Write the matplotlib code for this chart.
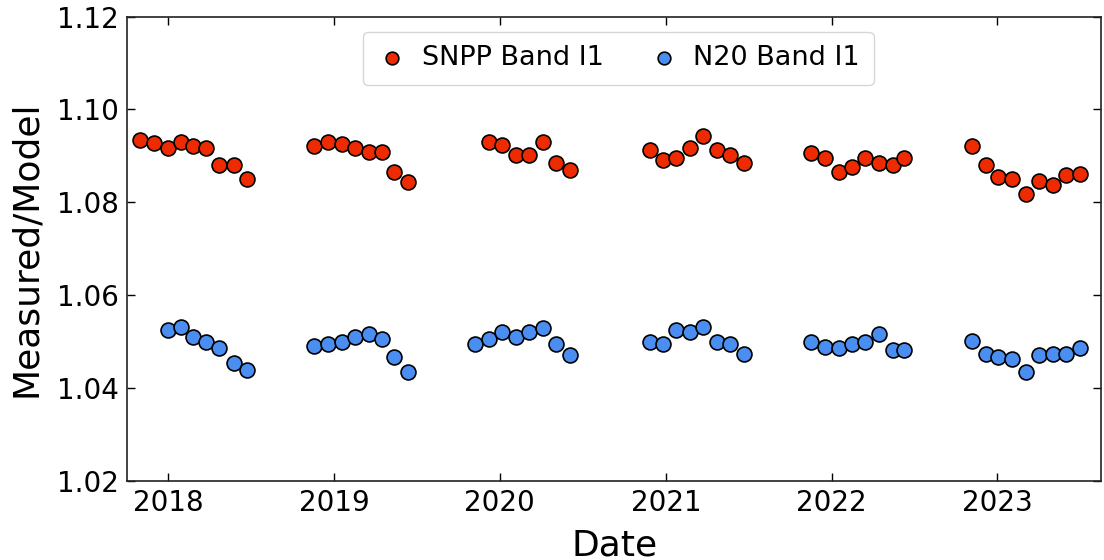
import numpy as np
import pandas as pd
import matplotlib
matplotlib.use('Agg')
import matplotlib.pyplot as plt
import matplotlib.dates as mdates

# Lunar-view dates (roughly one per month, Nov - Jul each season)
snpp_dates = [
    '2017-11-01', '2017-12-01', '2017-12-31', '2018-01-29', '2018-02-24', '2018-03-26', '2018-04-24', '2018-05-25', '2018-06-23',
    '2018-11-18', '2018-12-19', '2019-01-18', '2019-02-17', '2019-03-19', '2019-04-17', '2019-05-14', '2019-06-13',
    '2019-12-08', '2020-01-07', '2020-02-06', '2020-03-06', '2020-04-05', '2020-05-05', '2020-06-04',
    '2020-11-26', '2020-12-25', '2021-01-24', '2021-02-22', '2021-03-24', '2021-04-23', '2021-05-22', '2021-06-21',
    '2021-11-17', '2021-12-17', '2022-01-16', '2022-02-15', '2022-03-16', '2022-04-15', '2022-05-15', '2022-06-10',
    '2022-11-06', '2022-12-06', '2023-01-03', '2023-02-02', '2023-03-04', '2023-04-03', '2023-05-03', '2023-06-01', '2023-07-01',
]
snpp_ratio = [
    1.0934, 1.0927, 1.0916, 1.0930, 1.0920, 1.0916, 1.0880, 1.0880, 1.0850,
    1.0921, 1.0930, 1.0926, 1.0916, 1.0909, 1.0909, 1.0865, 1.0844,
    1.0930, 1.0923, 1.0902, 1.0902, 1.0930, 1.0884, 1.0869,
    1.0912, 1.0891, 1.0895, 1.0917, 1.0942, 1.0912, 1.0902, 1.0884,
    1.0906, 1.0895, 1.0865, 1.0876, 1.0895, 1.0884, 1.0880, 1.0895,
    1.0920, 1.0880, 1.0855, 1.0850, 1.0818, 1.0846, 1.0836, 1.0858, 1.0861,
]

n20_dates = [
    '2017-12-31', '2018-01-29', '2018-02-24', '2018-03-26', '2018-04-24', '2018-05-25', '2018-06-23',
    '2018-11-18', '2018-12-19', '2019-01-18', '2019-02-17', '2019-03-19', '2019-04-17', '2019-05-14', '2019-06-13',
    '2019-11-07', '2019-12-08', '2020-01-07', '2020-02-06', '2020-03-06', '2020-04-05', '2020-05-05', '2020-06-04',
    '2020-11-26', '2020-12-25', '2021-01-24', '2021-02-22', '2021-03-24', '2021-04-23', '2021-05-22', '2021-06-21',
    '2021-11-17', '2021-12-17', '2022-01-16', '2022-02-15', '2022-03-16', '2022-04-15', '2022-05-15', '2022-06-10',
    '2022-11-06', '2022-12-06', '2023-01-03', '2023-02-02', '2023-03-04', '2023-04-03', '2023-05-03', '2023-06-01', '2023-07-01',
]
n20_ratio = [
    1.0524, 1.0532, 1.0510, 1.0499, 1.0485, 1.0453, 1.0438,
    1.0491, 1.0495, 1.0499, 1.0510, 1.0517, 1.0506, 1.0466, 1.0434,
    1.0495, 1.0506, 1.0520, 1.0510, 1.0520, 1.0528, 1.0495, 1.0470,
    1.0499, 1.0495, 1.0524, 1.0520, 1.0532, 1.0499, 1.0495, 1.0474,
    1.0499, 1.0488, 1.0485, 1.0495, 1.0499, 1.0517, 1.0481, 1.0481,
    1.0500, 1.0474, 1.0467, 1.0463, 1.0434, 1.0470, 1.0474, 1.0474, 1.0485,
]

y_ticks = [1.02, 1.04, 1.06, 1.08, 1.10, 1.12]

snpp_t = pd.to_datetime(snpp_dates)
n20_t = pd.to_datetime(n20_dates)

fig = plt.figure(figsize=(11.04, 5.6), dpi=100)
ax = fig.add_axes([0.1153, 0.1416, 0.9973 - 0.1153, 0.9705 - 0.1416])

ax.scatter(snpp_t, snpp_ratio, s=115, c='#ee2a00', edgecolors='black', linewidths=1.2,
           label='SNPP Band I1', zorder=3)
ax.scatter(n20_t, n20_ratio, s=115, c='#4a8ef2', edgecolors='black', linewidths=1.2,
           label='N20 Band I1', zorder=3)

ax.set_xlim(pd.Timestamp('2017-10-03'), pd.Timestamp('2023-08-17'))
ax.set_ylim(1.02, 1.12)
ax.set_yticks(y_ticks)
ax.yaxis.set_major_formatter(plt.FormatStrFormatter('%.2f'))
ax.xaxis.set_major_locator(mdates.YearLocator())
ax.xaxis.set_major_formatter(mdates.DateFormatter('%Y'))

ax.tick_params(direction='in', top=True, right=True, length=6, width=1,
               labelsize=20, pad=6)
for sp in ax.spines.values():
    sp.set_linewidth(1.2)
    sp.set_color('#222222')

ax.set_xlabel('Date', fontsize=26, labelpad=8)
ax.set_ylabel('Measured/Model', fontsize=26, labelpad=10)

ax.legend(loc='upper center', bbox_to_anchor=(0.504, 0.967), borderaxespad=0,
          ncol=2, fontsize=19.5, handlelength=1.2, handletextpad=0.5,
          columnspacing=1.6, borderpad=0.5, markerscale=0.85, frameon=True)

fig.savefig('out.png', dpi=100)
